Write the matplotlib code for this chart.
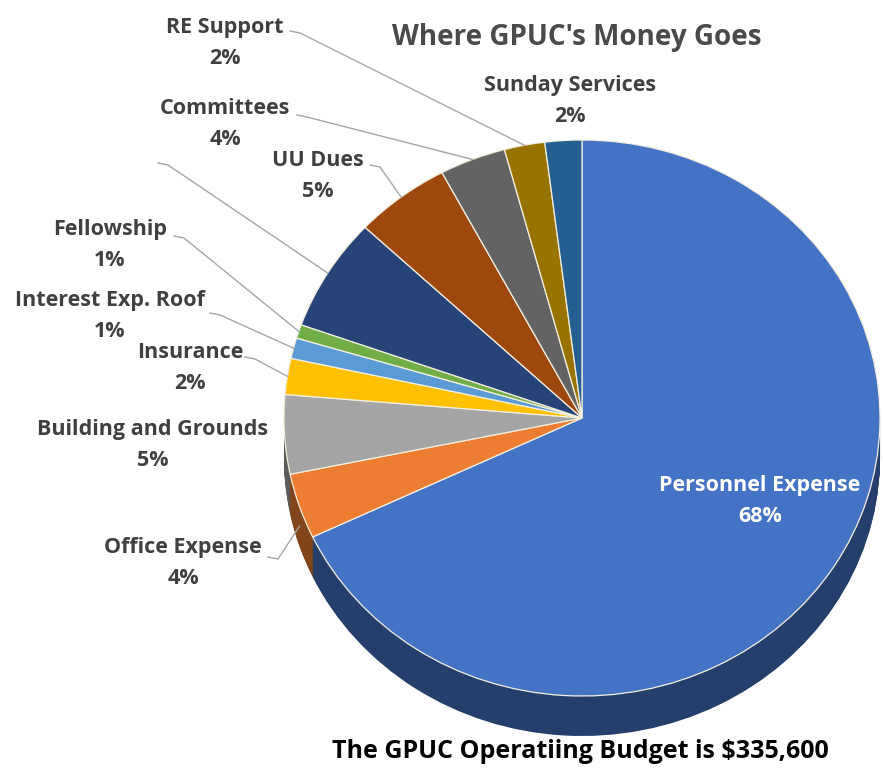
import numpy as np
import matplotlib.pyplot as plt
from matplotlib.colors import to_rgb

plt.rcParams['font.family'] = ['Open Sans', 'DejaVu Sans']

# slices, clockwise from 12 o'clock (share of budget, %)
labels = ['Personnel Expense', 'Office Expense', 'Building and Grounds', 'Insurance',
          'Interest Exp. Roof', 'Fellowship', '', 'UU Dues', 'Committees',
          'RE Support', 'Sunday Services']
shares = [68.1, 3.8, 4.6, 2.1, 1.2, 0.8, 6.6, 5.2, 3.6, 2.2, 2.0]
colors = ['#4472c4', '#ed7d31', '#a5a5a5', '#ffc000', '#5b9bd5', '#70ad47',
          '#264478', '#9e480e', '#636363', '#997300', '#255e91']
title = "Where GPUC's Money Goes"
footnote = 'The GPUC Operatiing Budget is $335,600'

# picture geometry (pixels): pie centre and radii, side depth
CX, CY, RX, RY, DEPTH = 582, 418, 298, 278, 40
W, H = 883, 775


def px(x, y):
    # pixel position -> data position
    return (x - CX) / RX, (CY - y) / RY


# label block centre and leader start (pixels); None = no leader
label_pos = {
    'Personnel Expense': ((760, 501), None),
    'Office Expense': ((183, 563), (268, 557)),
    'Building and Grounds': ((153, 445), None),
    'Insurance': ((190, 368), (245, 357)),
    'Interest Exp. Roof': ((110, 316), (210, 313)),
    'Fellowship': ((110, 245), (174, 236)),
    '': (None, (158, 163)),
    'UU Dues': ((318, 176), (370, 165)),
    'Committees': ((225, 124), (297, 115)),
    'RE Support': ((225, 43), (290, 31)),
    'Sunday Services': ((570, 101), None),
}

fig = plt.figure(figsize=(W / 100, H / 100), dpi=100)
ax = fig.add_axes([0, 0, 1, 1])

depth = DEPTH / RY
dark = [tuple(c * 0.55 for c in to_rgb(col)) for col in colors]
for off in np.linspace(-depth, 0, 40):
    ax.pie(shares, colors=dark, startangle=90, counterclock=False,
           center=(0, off), wedgeprops=dict(linewidth=0))
wedges, _ = ax.pie(shares, colors=colors, startangle=90, counterclock=False,
                   wedgeprops=dict(edgecolor='#f4f0e0', linewidth=0.9))

total = sum(shares)
for w, name, val in zip(wedges, labels, shares):
    pos, lead = label_pos[name]
    mid = np.deg2rad((w.theta1 + w.theta2) / 2)
    if pos is not None:
        txt = f'{name}\n{round(val / total * 100)}%'
        col = 'white' if name == 'Personnel Expense' else '#404040'
        ax.text(*px(*pos), txt, ha='center', va='center', fontsize=15.5,
                fontweight='bold', color=col, linespacing=1.6)
    if lead is not None:
        ex, ey = np.cos(mid), np.sin(mid)
        if ey < 0:
            ey -= depth / 2
        sx, sy = px(*lead)
        ax.plot([sx, sx + 10 / RX, ex], [sy, sy - 2 / RY, ey],
                color='#a6a6a6', linewidth=1)

ax.text(*px(577, 38), title, ha='center', va='center', fontsize=20,
        fontweight='bold', color='#4a4a4a')
ax.text(*px(580, 752), footnote, ha='center', va='center', fontsize=18,
        fontweight='bold', color='black')

ax.set_aspect('auto')
ax.set_xlim((0 - CX) / RX, (W - CX) / RX)
ax.set_ylim((CY - H) / RY, CY / RY)
ax.axis('off')

fig.savefig('out.png', dpi=100)
